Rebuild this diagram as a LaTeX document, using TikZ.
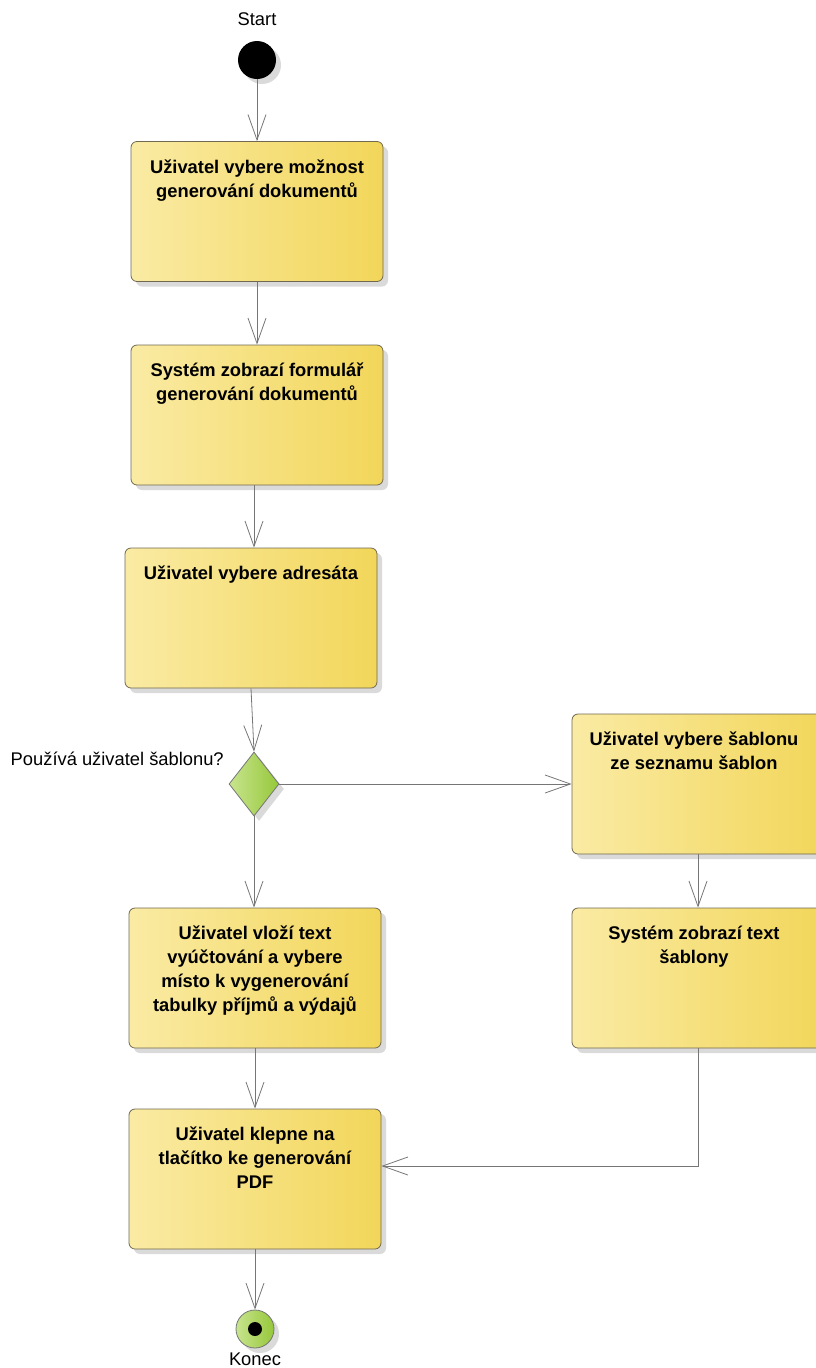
\documentclass[tikz,border=0pt]{standalone}
\usepackage{fontspec}
\setmainfont{Liberation Sans}
\usetikzlibrary{arrows.meta,shapes.geometric,shadows}
\definecolor{boxL}{RGB}{250,235,164}
\definecolor{boxR}{RGB}{242,214,90}
\definecolor{boxEdge}{RGB}{112,104,80}
\definecolor{greenL}{RGB}{200,228,142}
\definecolor{greenR}{RGB}{150,200,58}
\definecolor{lineC}{RGB}{118,118,118}
\definecolor{shadowC}{RGB}{218,218,218}
\begin{document}
\begin{tikzpicture}[x=0.75pt,y=-0.75pt,
  flow/.style={draw=lineC, line width=0.6pt,
    -{Straight Barb[length=19pt,width=13.5pt,line width=0.6pt]}},
  shade/.style={drop shadow={shadow xshift=3.75pt, shadow yshift=-3.75pt,
    fill=shadowC, opacity=1}},
  act/.style={rectangle, rounded corners=4.5pt, draw=boxEdge, line width=0.6pt,
    left color=boxL, right color=boxR, minimum width=189pt,
    minimum height=105pt, inner sep=0pt, shade},
  acttext/.style={font=\fontsize{13.75}{18}\selectfont\bfseries,
    align=center, anchor=north, inner sep=0pt, yshift=-11.4pt},
  plain/.style={font=\fontsize{13.75}{18}\selectfont, inner sep=0pt},
  decision/.style={diamond, draw=lineC, line width=0.6pt, left color=greenL,
    right color=greenR, minimum width=37.5pt, minimum height=48pt,
    inner sep=0pt, shade},
  startdot/.style={circle, fill=black, minimum size=28.5pt, inner sep=0pt,
    shade},
  enddot/.style={circle, draw=lineC, line width=0.6pt, left color=greenL,
    right color=greenR, minimum size=28.5pt, inner sep=0pt, shade},
  enddotcore/.style={circle, fill=black, minimum size=10.5pt, inner sep=0pt}
]
\useasboundingbox (0,0) rectangle (816,1368);

% start
\node[plain] (startlbl) at (257,19) {Start};
\node[startdot] (s) at (257,60) {};

% main column
\node[act] (b1) at (257,211.5) {};
\node[acttext] (t1) at (b1.north) {\strut Uživatel vybere možnost\\generování dokumentů};
\node[act] (b2) at (257,415) {};
\node[acttext] (t2) at (b2.north) {\strut Systém zobrazí formulář\\generování dokumentů};
\node[act] (b3) at (251,618) {};
\node[acttext] (t3) at (b3.north) {\strut Uživatel vybere adresáta};

% decision
\node[decision] (d) at (254,784) {};
\node[plain, anchor=base east] (q) at (224,765) {Používá uživatel šablonu?};

% template branch
\node[act] (r1) at (698,784) {};
\node[acttext, xshift=-3pt] (u1) at (r1.north) {\strut Uživatel vybere šablonu\\ze seznamu šablon};
\node[act] (r2) at (698,978) {};
\node[acttext, xshift=-3pt] (u2) at (r2.north) {\strut Systém zobrazí text\\šablony};

% manual branch
\node[act] (b4) at (255,978) {};
\node[acttext] (t4) at (b4.north) {\strut Uživatel vloží text\\vyúčtování a vybere\\místo k vygenerování\\tabulky příjmů a výdajů};
\node[act] (b5) at (255,1179) {};
\node[acttext] (t5) at (b5.north) {\strut Uživatel klepne na\\tlačítko ke generování\\PDF};

% end
\node[enddot] (e) at (255,1329) {};
\node[enddotcore] (ec) at (e.center) {};
\node[plain] (endlbl) at (255,1359) {Konec};

% connectors
\draw[flow] (s) -- (b1.north);
\draw[flow] (b1.south) -- (b2.north);
\draw[flow] (b2.south -| d.north) -- (b3.north -| d.north);
\draw[flow] (b3.south) -- (d.north);
\draw[flow] (d.east) -- (r1.west);
\draw[flow] (d.south) -- (b4.north -| d.south);
\draw[flow] (r1.south) -- (r2.north);
\draw[flow] (b4.south) -- (b5.north);
\draw[flow] (r2.south) |- ([yshift=9.75pt]b5.east);
\draw[flow] (b5.south) -- (e.north);
\end{tikzpicture}
\end{document}
